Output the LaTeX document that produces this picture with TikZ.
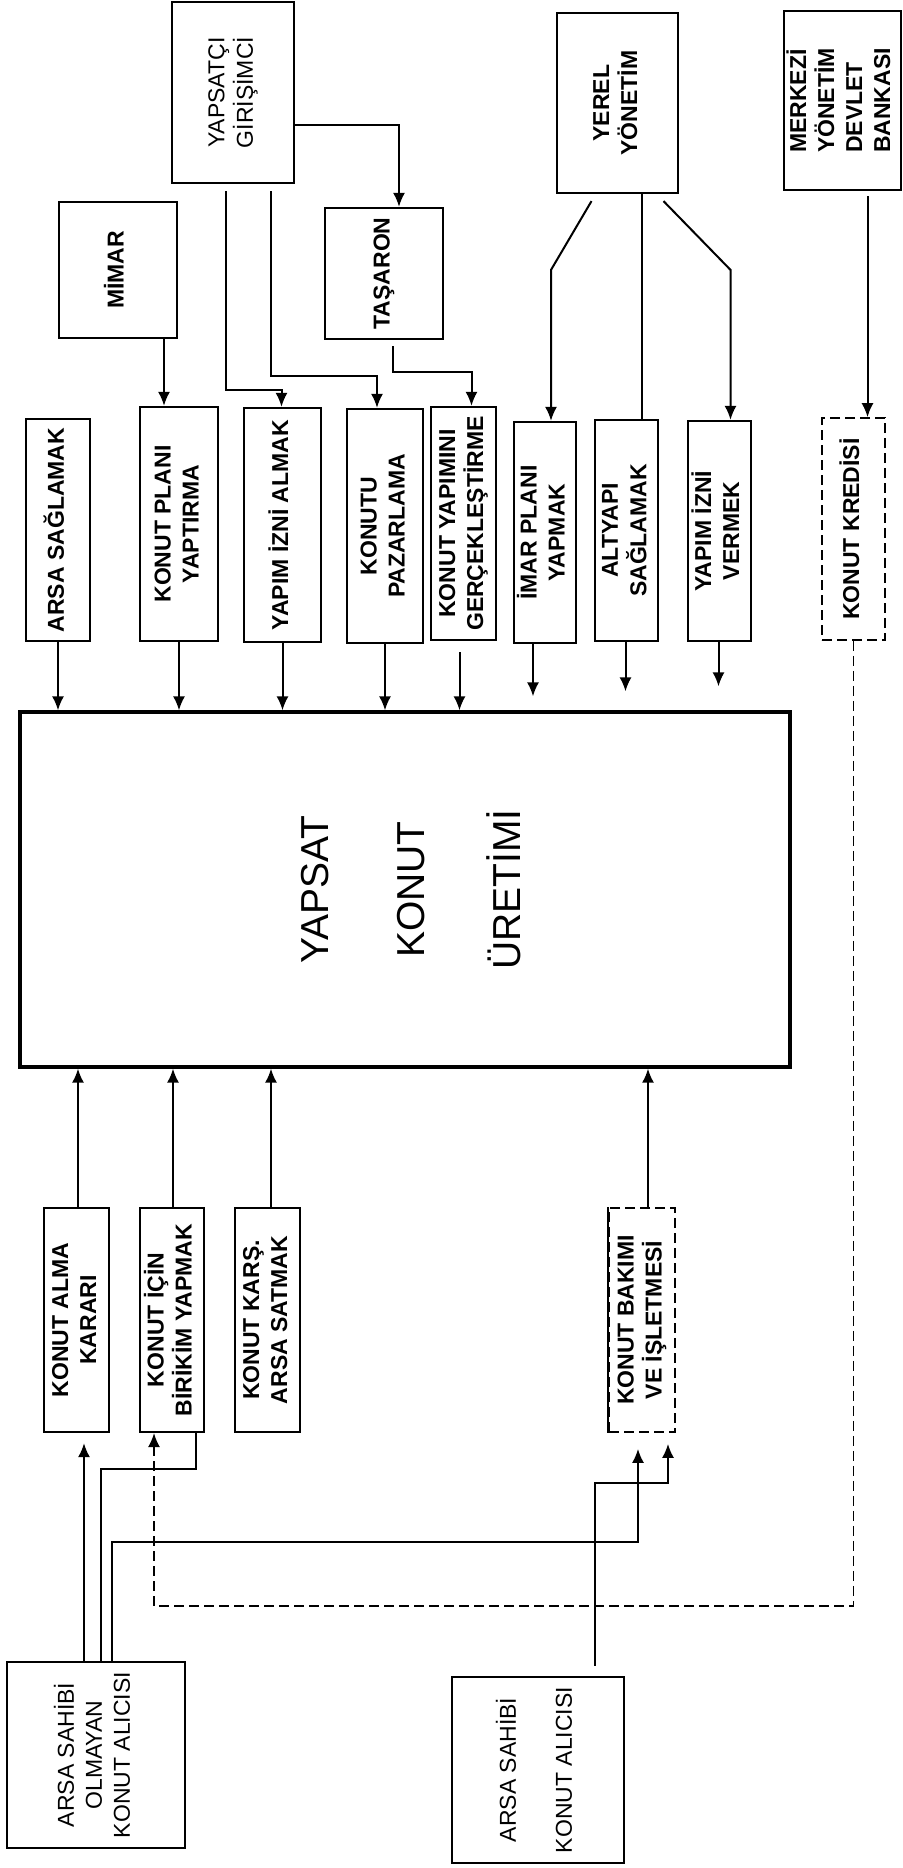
\documentclass[tikz,border=0pt]{standalone}
\usepackage{fontspec}
\setmainfont{Liberation Sans}
\usepackage{graphicx}
\usetikzlibrary{arrows.meta,calc}
\newcommand{\dik}[1]{\rotatebox{90}{\begin{tabular}{@{}c@{}}#1\end{tabular}}}
\newcommand{\dikl}[1]{\rotatebox{90}{\begin{tabular}{@{}l@{}}#1\end{tabular}}}
\tikzset{
  kutu/.style={draw, line width=1.1pt, inner sep=0pt, font=\fontsize{11.5}{14}\selectfont\bfseries},
  ince/.style={kutu, font=\fontsize{11.5}{14}\selectfont},
  kesik/.style={kutu, line width=0.8pt, dash pattern=on 5pt off 2.5pt},
  ebat/.style 2 args={minimum width=#1*0.5pt, minimum height=#2*0.5pt},
}
\begin{document}
\begin{tikzpicture}[x=0.5pt, y=-0.5pt, >={Latex[length=7pt,width=6pt]}, line width=1pt]
\useasboundingbox (0,0) rectangle (903,1868);
% ust sira
\node[ince, ebat={122}{181}] (yapsatci) at (233,92.5) {\dik{YAPSATÇI\\GİRİŞİMCİ}};
\node[kutu, ebat={118}{136}] (mimar) at (118,270) {\dik{MİMAR}};
\node[kutu, ebat={118}{131}] (taseron) at (384,273.5) {\dik{TAŞARON}};
\node[kutu, ebat={121}{180}] (yerel) at (617.5,103) {\dik{YEREL\\YÖNETİM}};
\node[kutu, ebat={117}{179}] (merkezi) at (842.5,100.5) {\dikl{MERKEZİ\\YÖNETİM\\DEVLET\\BANKASI}};
% ikinci sira
\node[kutu, ebat={64}{222}] (arsa) at (58,530) {\dik{ARSA SAĞLAMAK}};
\node[kutu, ebat={78}{234}] (plan) at (179,524) {\dik{KONUT PLANI\\YAPTIRMA}};
\node[kutu, ebat={77}{234}] (izinal) at (282.5,525) {\dik{YAPIM İZNİ ALMAK}};
\node[kutu, ebat={76}{234}] (pazar) at (385,526) {\dik{KONUTU\\PAZARLAMA}};
\node[kutu, ebat={65}{233}] (yapim) at (463.5,523.5) {\dik{KONUT YAPIMINI\\GERÇEKLEŞTİRME}};
\node[kutu, ebat={62}{221}] (imar) at (545,532.5) {\dik{İMAR PLANI\\YAPMAK}};
\node[kutu, ebat={63}{221}] (altyapi) at (626.5,530.5) {\dik{ALTYAPI\\SAĞLAMAK}};
\node[kutu, ebat={63}{220}] (izinver) at (719.5,531) {\dik{YAPIM İZNİ\\VERMEK}};
\node[kesik, ebat={63}{222}] (kredi) at (853.5,529) {\dik{KONUT KREDİSİ}};
% ana kutu
\node[draw, line width=1.6pt, inner sep=0pt, ebat={770}{355}, font=\fontsize{19.5}{48}\selectfont] (uretim) at (405,889.5) {\dik{YAPSAT\\KONUT\\ÜRETİMİ}};
% alt sira
\node[kutu, ebat={65}{224}] (alma) at (76.5,1320) {\dik{KONUT ALMA\\KARARI}};
\node[kutu, ebat={64}{224}] (birikim) at (172,1320) {\dik{KONUT İÇİN\\BİRİKİM YAPMAK}};
\node[kutu, ebat={65}{224}] (karsi) at (267.5,1320) {\dik{KONUT KARŞ.\\ARSA SATMAK}};
\node[kesik, ebat={66}{224}] (bakim) at (642,1320) {\dik{KONUT BAKIMI\\VE İŞLETMESİ}};
\draw[line width=1.1pt] (bakim.north west) -- (bakim.south west);
% alicilar
\node[ince, ebat={178}{186}] (alicisiz) at (96,1755) {\dik{ARSA SAHİBİ\\OLMAYAN\\KONUT ALICISI}};
\node[ince, ebat={172}{186}] (alici) at (538,1770) {\dik{ARSA SAHİBİ\\[14pt]KONUT ALICISI}};

% yapsatci, mimar, taseron
\draw[->] ($(yapsatci.east)+(0,33)$) -| ($(taseron.north)+(15,0)$);
\draw[->] ($(yapsatci.south)+(-7,7)$) |- ($(izinal.north)+(-1,-17)$) -- ($(izinal.north)+(-1,0)$);
\draw[->] ($(yapsatci.south)+(38,7)$) |- ($(pazar.north)+(-8,-32)$) -- ($(pazar.north)+(-8,0)$);
\draw[->] ($(mimar.south)+(46,0)$) coordinate (m1) -- (m1 |- plan.north);
\draw[->] ($(taseron.south)+(9,6)$) |- ($(yapim.north)+(8,-34)$) -- ($(yapim.north)+(8,0)$);
% yerel yonetim, merkezi yonetim
\draw[->] ($(yerel.south)+(-26,7)$) -- ($(imar.north)+(6,-151)$) -- ($(imar.north)+(6,0)$);
\draw ($(yerel.south)+(24,0)$) coordinate (y1) -- (y1 |- altyapi.north);
\draw[->] ($(yerel.south)+(46,7)$) -- ($(izinver.north)+(11,-150)$) -- ($(izinver.north)+(11,0)$);
\draw[->] ($(merkezi.south)+(25,5)$) coordinate (k1) -- (k1 |- kredi.north);
% ust sira -> uretim
\foreach \n in {arsa,plan,izinal,pazar}
  \draw[->] (\n.south) -- (\n.south |- uretim.north);
\draw[->] ($(yapim.south)+(-4,11)$) coordinate (g1) -- (g1 |- uretim.north);
\draw[->] ($(imar.south)+(-12,0)$) coordinate (i1) -- ($(i1 |- uretim.north)+(0,-14)$);
\draw[->] ($(altyapi.south)+(-1,0)$) coordinate (i2) -- ($(i2 |- uretim.north)+(0,-19)$);
\draw[->] ($(izinver.south)+(-1,0)$) coordinate (i3) -- ($(i3 |- uretim.north)+(0,-24)$);
% alt sira -> uretim
\foreach \n/\d in {alma/1.5,birikim/1,karsi/3.5,bakim/6}
  \draw[->] ($(\n.north)+(\d,0)$) coordinate (u) -- (u |- uretim.south);
% alicilar
\draw[->] ($(alicisiz.north)+(-12,0)$) coordinate (a1) -- ($(a1 |- alma.south)+(0,10)$);
\draw ($(birikim.south)+(24,0)$) |- ($(alicisiz.north)+(5,-192)$) -- ($(alicisiz.north)+(5,0)$);
\draw[->] ($(alicisiz.north)+(16,0)$) |- ($(bakim.south)+(-4,109)$) -- ($(bakim.south)+(-4,16)$);
\draw[->] ($(alici.north)+(57,-10)$) |- ($(bakim.south)+(26,50)$) -- ($(bakim.south)+(26,11)$);
\draw[->, line width=0.8pt, dash pattern=on 5pt off 2.5pt] (kredi.south) |- ($(birikim.south)+(-18,173)$) -- ($(birikim.south)+(-18,0)$);
\end{tikzpicture}
\end{document}
